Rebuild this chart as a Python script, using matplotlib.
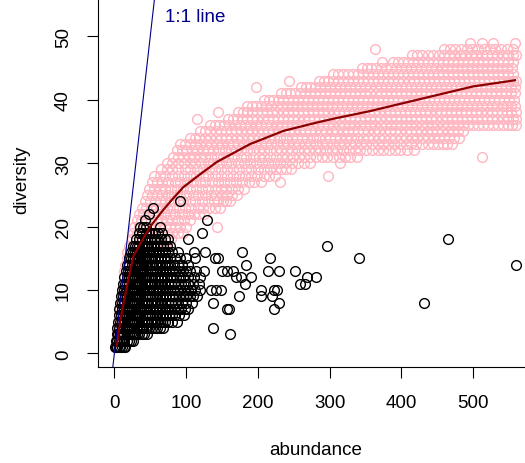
import matplotlib
matplotlib.use("Agg")
import matplotlib.pyplot as plt

# ---------------- data ----------------
# pink series: integer diversity levels, and the abundance values seen on each level
pink_levels = list(range(1, 50))
pink_rows = [
    [1, 2], [2, 4], [3, 6], [4, 7], [5, 9], [6, 11], [8, 14], [9, 16],
    [10, 16, 22], [11, 18, 25], [12, 20, 29], [13, 22, 33], [14, 24, 37],
    [15, 26, 37, 45], [17, 28, 40, 52], [18, 30, 43, 58],
    [21, 27, 33, 40, 46, 52, 59, 65, 70],
    [24, 30, 36, 43, 50, 57, 64, 71, 79],
    [26, 32, 39, 46, 53, 60, 67, 74, 81, 88, 95],
    [28, 34, 41, 48, 55, 62, 70, 78, 85, 92, 100, 143],
    [31, 37, 44, 51, 58, 65, 73, 81, 89, 97, 106],
    [34, 40, 47, 54, 61, 69, 77, 85, 94, 102, 111, 118, 125],
    [38, 44, 51, 58, 66, 74, 82, 90, 99, 107, 116, 124, 132, 140, 147],
    [42, 49, 56, 63, 71, 79, 88, 96, 105, 113, 122, 130, 139, 145, 151, 156,
     161],
    [45, 52, 59, 67, 75, 83, 92, 100, 109, 117, 126, 134, 142, 150, 157, 164,
     171],
    [48, 55, 63, 71, 79, 87, 96, 105, 114, 122, 131, 140, 148, 156, 164, 172,
     180],
    [52, 59, 67, 75, 84, 92, 101, 110, 119, 127, 136, 144, 153, 161, 170, 178,
     187, 195, 204, 231],
    [55, 63, 71, 80, 89, 97, 106, 114, 123, 131, 140, 148, 157, 165, 174, 182,
     191, 199, 208, 216, 224, 298],
    [65, 73, 81, 89, 98, 106, 115, 123, 132, 140, 149, 157, 166, 174, 183, 191,
     200, 208, 217, 225, 232, 239, 246],
    [74, 81, 89, 97, 105, 113, 121, 130, 138, 146, 155, 163, 172, 180, 189, 197,
     206, 214, 223, 231, 239, 247, 256, 264, 273, 315],
    [82, 89, 96, 104, 111, 119, 127, 135, 143, 151, 159, 167, 176, 184, 193,
     201, 209, 217, 225, 233, 241, 249, 257, 265, 273, 281, 289, 297, 305, 313,
     321, 329, 338, 513],
    [87, 94, 100, 108, 115, 123, 130, 138, 146, 154, 162, 170, 177, 185, 193,
     201, 209, 217, 225, 232, 240, 248, 256, 264, 271, 279, 287, 295, 303, 311,
     319, 327, 335, 343, 351, 359, 367, 375, 383, 391, 398, 408, 418],
    [92, 99, 105, 113, 120, 128, 135, 143, 150, 158, 165, 173, 180, 188, 196,
     204, 211, 219, 227, 235, 242, 250, 258, 266, 273, 281, 289, 297, 305, 313,
     320, 328, 336, 344, 351, 359, 367, 375, 382, 390, 398, 406, 413, 421, 429,
     437, 444, 451, 458, 464, 470],
    [105, 112, 118, 126, 133, 141, 148, 156, 163, 171, 178, 186, 193, 201, 208,
     216, 223, 231, 239, 247, 254, 262, 269, 277, 285, 293, 300, 308, 315, 323,
     330, 338, 346, 354, 361, 369, 376, 384, 391, 399, 407, 415, 422, 430, 437,
     445, 452, 459, 466, 473, 480],
    [120, 127, 133, 141, 148, 156, 163, 170, 177, 185, 192, 200, 207, 214, 221,
     229, 236, 244, 251, 259, 266, 273, 280, 288, 295, 303, 310, 318, 325, 332,
     339, 347, 354, 362, 369, 377, 384, 391, 398, 406, 413, 421, 428, 436, 443,
     450, 457, 465, 472, 479, 486],
    [133, 140, 146, 153, 160, 168, 175, 182, 189, 197, 204, 211, 218, 226, 233,
     240, 247, 255, 262, 269, 276, 284, 291, 298, 305, 313, 320, 327, 334, 342,
     349, 356, 363, 371, 378, 385, 392, 400, 407, 414, 421, 429, 436, 443, 450,
     458, 465, 472, 479, 486, 493, 500, 507, 514, 521, 528, 535, 542, 548, 554,
     560],
    [115, 158, 165, 171, 178, 185, 192, 199, 207, 214, 221, 228, 235, 242, 249,
     256, 264, 271, 278, 285, 292, 299, 306, 313, 321, 328, 335, 342, 349, 356,
     363, 370, 378, 385, 392, 399, 406, 413, 420, 427, 435, 442, 449, 456, 463,
     470, 477, 484, 492, 499, 506, 513, 520, 527, 534, 541, 548, 555, 560],
    [145, 172, 179, 185, 192, 199, 206, 213, 220, 227, 235, 242, 249, 256, 263,
     270, 277, 284, 291, 298, 306, 313, 320, 327, 334, 341, 348, 355, 362, 369,
     377, 384, 391, 398, 405, 412, 419, 426, 433, 440, 448, 455, 462, 469, 476,
     483, 490, 497, 504, 511, 519, 526, 533, 540, 547, 553, 560],
    [185, 192, 198, 205, 212, 219, 226, 233, 240, 247, 254, 261, 268, 275, 282,
     289, 296, 303, 310, 317, 324, 331, 338, 345, 352, 359, 366, 373, 380, 387,
     394, 401, 408, 415, 422, 429, 436, 443, 450, 457, 464, 471, 478, 485, 492,
     499, 506, 513, 520, 527, 534, 541, 547, 553, 559],
    [208, 215, 221, 228, 235, 242, 249, 256, 263, 270, 277, 284, 291, 298, 305,
     312, 319, 326, 333, 340, 347, 354, 361, 368, 375, 382, 389, 396, 403, 410,
     417, 424, 431, 438, 445, 452, 459, 466, 473, 480, 487, 494, 501, 508, 515,
     522, 529, 536, 543, 550, 557],
    [232, 239, 245, 252, 259, 266, 273, 280, 287, 294, 301, 308, 315, 322, 329,
     336, 343, 350, 357, 364, 371, 378, 385, 392, 399, 406, 413, 420, 427, 434,
     441, 448, 455, 462, 469, 476, 483, 490, 497, 504, 511, 518, 525, 532, 539,
     546, 553, 559],
    [198, 260, 267, 273, 280, 287, 294, 301, 308, 315, 322, 329, 336, 343, 350,
     357, 364, 371, 378, 385, 392, 399, 406, 413, 420, 427, 434, 441, 448, 455,
     462, 469, 476, 483, 490, 497, 504, 511, 518, 525, 532, 539, 546, 553, 559],
    [243, 285, 292, 298, 305, 312, 319, 326, 333, 340, 347, 354, 361, 368, 375,
     382, 389, 396, 403, 410, 417, 424, 431, 438, 445, 452, 459, 466, 473, 480,
     487, 494, 501, 508, 515, 522, 529, 536, 543, 550, 555, 560],
    [305, 312, 318, 325, 332, 339, 346, 353, 360, 367, 374, 381, 388, 395, 402,
     409, 416, 423, 430, 437, 444, 451, 458, 465, 472, 479, 486, 493, 500, 507,
     514, 521, 528, 535, 542, 549, 556],
    [345, 352, 358, 365, 372, 379, 386, 393, 400, 407, 414, 421, 428, 435, 442,
     449, 456, 463, 470, 477, 484, 491, 498, 505, 512, 519, 526, 533, 540, 547,
     554],
    [373, 388, 395, 402, 409, 416, 423, 430, 437, 444, 451, 458, 465, 472, 479,
     486, 493, 500, 507, 514, 521, 528, 535, 542, 549, 556],
    [415, 422, 429, 437, 444, 452, 459, 467, 474, 482, 489, 497, 504, 512, 519,
     527, 534, 542, 549, 555, 560],
    [363, 460, 468, 475, 483, 491, 499, 507, 515, 523, 531, 539, 547, 555],
    [496, 512, 528, 558],
]

# black series: integer diversity levels, and the abundance values seen on each level
black_levels = list(range(1, 25))
black_rows = [
    [1, 2, 4, 6, 8, 11, 13, 15],
    [2, 4, 6, 9, 11, 14, 17, 20, 23, 26],
    [3, 5, 8, 11, 14, 17, 20, 23, 26, 29, 32, 35, 38, 41, 45, 161],
    [4, 7, 10, 13, 16, 19, 22, 25, 28, 31, 34, 37, 40, 44, 48, 52, 56, 60, 64,
     68, 138],
    [5, 8, 11, 14, 17, 20, 23, 26, 29, 32, 35, 38, 41, 44, 47, 51, 55, 59, 63,
     67, 71, 75, 80, 87],
    [6, 9, 12, 15, 18, 21, 24, 27, 30, 33, 36, 39, 42, 45, 48, 52, 56, 60, 64,
     68, 72, 76, 80, 85, 90, 97],
    [7, 10, 13, 16, 19, 22, 25, 28, 31, 34, 37, 40, 43, 46, 50, 54, 58, 62, 66,
     70, 74, 78, 83, 88, 93, 98, 103, 157, 160, 223],
    [8, 11, 14, 17, 20, 23, 26, 29, 32, 35, 38, 41, 44, 47, 51, 55, 59, 63, 67,
     71, 75, 79, 84, 89, 94, 100, 108, 138, 229, 431],
    [9, 12, 15, 18, 21, 24, 27, 30, 33, 36, 39, 42, 45, 48, 52, 56, 60, 64, 68,
     72, 76, 80, 85, 90, 95, 100, 105, 110, 115, 174, 205, 220],
    [11, 14, 17, 20, 23, 26, 29, 32, 35, 38, 41, 44, 47, 50, 54, 58, 62, 66,
     70, 74, 78, 82, 87, 92, 97, 102, 107, 113, 120, 134, 142, 148, 205, 222,
     227],
    [12, 15, 18, 21, 24, 27, 30, 33, 36, 39, 42, 45, 48, 51, 55, 59, 63, 67,
     71, 75, 79, 83, 88, 93, 98, 103, 110, 118, 182, 259, 266],
    [14, 17, 20, 23, 26, 29, 32, 35, 38, 41, 44, 47, 50, 53, 57, 61, 65, 69,
     73, 77, 81, 86, 91, 96, 102, 111, 120, 170, 177, 190, 268, 281],
    [16, 19, 22, 25, 28, 31, 34, 37, 40, 43, 46, 49, 52, 56, 60, 64, 68, 72,
     76, 80, 85, 90, 95, 100, 106, 114, 125, 150, 157, 166, 214, 229, 252],
    [18, 21, 24, 27, 30, 33, 36, 39, 42, 45, 48, 51, 54, 58, 62, 66, 70, 74,
     78, 83, 88, 94, 102, 183, 560],
    [20, 23, 26, 29, 32, 35, 38, 41, 44, 47, 50, 53, 57, 61, 65, 69, 73, 78,
     84, 91, 100, 112, 140, 145, 217, 341],
    [23, 26, 29, 32, 35, 38, 41, 44, 47, 50, 54, 58, 62, 66, 70, 75, 81, 88,
     111, 127, 178],
    [26, 29, 32, 35, 38, 41, 44, 47, 51, 55, 59, 63, 68, 73, 78, 296],
    [30, 34, 38, 42, 46, 50, 55, 60, 65, 70, 75, 102, 465],
    [35, 39, 44, 48, 52, 56, 61, 67, 122],
    [36, 40, 44, 64],
    [43, 129],
    [48],
    [54],
    [92],
]

# fitted curve (dark red)
curve_abundance = [3, 8, 12, 16.5, 21, 26.6, 36, 50, 68, 80, 96, 119, 143,
                   166, 189, 236, 282, 305, 356, 426, 500, 560]
curve_diversity = [1, 4.8, 7.5, 10, 12.5, 15.3, 17.3, 20, 22.6, 24.2, 26.2,
                   28.2, 30.2, 31.6, 33, 35.1, 36.4, 37, 38.2, 40.1, 42.1, 43.1]

x_ticks = [0, 100, 200, 300, 400, 500]
y_ticks = [0, 10, 20, 30, 40, 50]
x_label = "abundance"
y_label = "diversity"
ref_label = "1:1 line"

# ---------------- figure ----------------
plt.rcParams['font.family'] = ['Liberation Sans', 'DejaVu Sans']
FS = 13.5

fig = plt.figure(figsize=(5.25, 4.64), dpi=100)
ax = fig.add_axes([0.18724, 0.20625, 0.82648, 0.81164])
ax.set_xlim(-22.4, 582.4)
ax.set_ylim(-2.2, 57.2)

px, py = [], []
for lvl, row in zip(pink_levels, pink_rows):
    px.extend(row)
    py.extend([lvl] * len(row))
bx, by = [], []
for lvl, row in zip(black_levels, black_rows):
    bx.extend(row)
    by.extend([lvl] * len(row))

ms = 7.0
mew = 1.0
ax.plot(px, py, linestyle='none', marker='o', ms=ms, mfc='none',
        mec='#FFB6C1', mew=mew)
ax.plot(bx, by, linestyle='none', marker='o', ms=ms, mfc='none',
        mec='black', mew=mew)
ax.plot(curve_abundance, curve_diversity, color='#8B0000', lw=1.6,
        solid_capstyle='butt')
ax.axline((0, 0), slope=1, color='#00008B', lw=0.8)
ax.text(71, 53.2, ref_label, color='#00008B', fontsize=FS,
        ha='left', va='center')

for s in ['top', 'right']:
    ax.spines[s].set_visible(False)
for s in ['left', 'bottom']:
    ax.spines[s].set_linewidth(0.8)

ax.set_xticks(x_ticks)
ax.set_yticks(y_ticks)
ax.tick_params(axis='both', direction='out', length=7.9, width=0.8,
               labelsize=FS, pad=11)
ax.tick_params(axis='y', labelrotation=90)
for lab in ax.get_yticklabels():
    lab.set_va('center')

ax.set_xlabel(x_label, fontsize=FS)
ax.set_ylabel(y_label, fontsize=FS)
ax.xaxis.set_label_coords(0.5, -0.217)
ax.xaxis.label.set_va('center')
ax.yaxis.set_label_coords(-0.176, 0.5)
ax.yaxis.label.set_va('center')

fig.savefig("out.png", dpi=100)
